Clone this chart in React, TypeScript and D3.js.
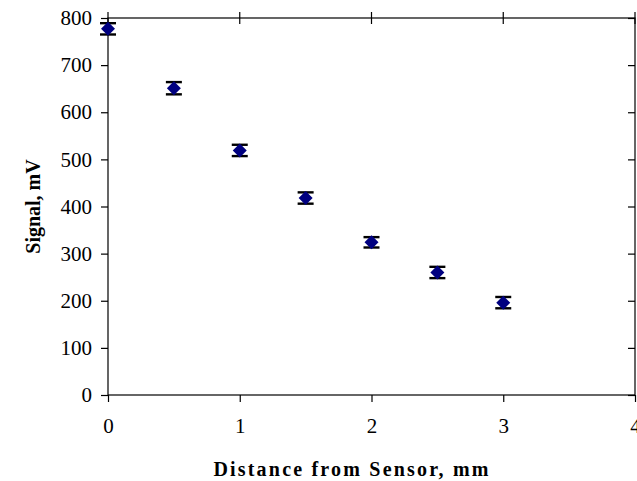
import React, { useEffect, useRef } from "react";
import * as d3 from "d3";

const distances = [0, 0.5, 1, 1.5, 2, 2.5, 3];
const signals = [777, 651, 519, 418, 324, 260, 196];
const errors = [12, 13, 12, 12, 11, 12, 12];
const xTicks = [0, 1, 2, 3, 4];
const yTicks = [0, 100, 200, 300, 400, 500, 600, 700, 800];

const W = 637;
const H = 481;

export default function App() {
  const ref = useRef<SVGSVGElement>(null);
  useEffect(() => {
    const svg = d3.select(ref.current);
    svg.selectAll("*").remove();
    const left = 108, right = 635, top = 18, bottom = 395;
    const x = d3.scaleLinear().domain([0, 4]).range([left, right]);
    const y = d3.scaleLinear().domain([0, 800]).range([bottom, top]);
    const font = "'Liberation Serif', 'Times New Roman', serif";

    svg.append("rect").attr("width", W).attr("height", H).attr("fill", "#fff");

    // frame
    svg.append("rect")
      .attr("x", left).attr("y", top)
      .attr("width", right - left).attr("height", bottom - top)
      .attr("fill", "none").attr("stroke", "#000").attr("stroke-width", 1.2);

    // left axis
    const ya = svg.append("g").attr("transform", `translate(${left},0)`)
      .call(d3.axisLeft(y).tickValues(yTicks).tickSize(7).tickPadding(9).tickFormat(d3.format("d")));
    ya.attr("font-family", font);
    ya.select(".domain").remove();
    ya.selectAll("line").attr("stroke", "#000").attr("stroke-width", 1.2);
    ya.selectAll("text").attr("font-family", font).attr("font-size", 21).attr("fill", "#000");

    // right ticks inward
    const yr = svg.append("g").attr("transform", `translate(${right},0)`)
      .call(d3.axisLeft(y).tickValues(yTicks).tickSize(7).tickFormat(() => ""));
    yr.select(".domain").remove();
    yr.selectAll("line").attr("stroke", "#000").attr("stroke-width", 1.2);

    // bottom axis
    const xa = svg.append("g").attr("transform", `translate(0,${bottom})`)
      .call(d3.axisBottom(x).tickValues(xTicks).tickSize(7).tickPadding(16).tickFormat(d3.format("d")));
    xa.attr("font-family", font);
    xa.select(".domain").remove();
    xa.selectAll("line").attr("stroke", "#000").attr("stroke-width", 1.2);
    xa.selectAll("text").attr("font-family", font).attr("font-size", 21).attr("fill", "#000");

    // top ticks crossing
    svg.append("g").selectAll("line").data(xTicks).join("line")
      .attr("x1", d => x(d)).attr("x2", d => x(d))
      .attr("y1", top - 6).attr("y2", top + 6)
      .attr("stroke", "#000").attr("stroke-width", 1.2);

    // error bars
    const eb = svg.append("g");
    distances.forEach((d, i) => {
      const cx = x(d);
      const y1 = y(signals[i] + errors[i]);
      const y2 = y(signals[i] - errors[i]);
      eb.append("line").attr("x1", cx).attr("x2", cx).attr("y1", y1).attr("y2", y2)
        .attr("stroke", "#000").attr("stroke-width", 2);
      [y1, y2].forEach(yy => {
        eb.append("line").attr("x1", cx - 8).attr("x2", cx + 8).attr("y1", yy).attr("y2", yy)
          .attr("stroke", "#000").attr("stroke-width", 2.4);
      });
    });

    // diamonds
    svg.append("g").selectAll("path").data(distances).join("path")
      .attr("transform", (d, i) => `translate(${x(d)},${y(signals[i])})`)
      .attr("d", "M0,-7 L7,0 L0,7 L-7,0 Z")
      .attr("fill", "#000080");

    // titles
    svg.append("text")
      .attr("x", 352).attr("y", 476)
      .attr("text-anchor", "middle")
      .attr("font-family", font).attr("font-size", 20).attr("font-weight", "bold")
      .attr("letter-spacing", 2.2)
      .text("Distance from Sensor, mm");

    svg.append("text")
      .attr("transform", `translate(40,${(top + bottom) / 2}) rotate(-90)`)
      .attr("text-anchor", "middle")
      .attr("font-family", font).attr("font-size", 20).attr("font-weight", "bold")
      .text("Signal, mV");
  }, []);
  return (
    <svg ref={ref} width={W} height={H}
      style={{ position: "absolute", left: 0, top: 0, display: "block" }} />
  );
}
